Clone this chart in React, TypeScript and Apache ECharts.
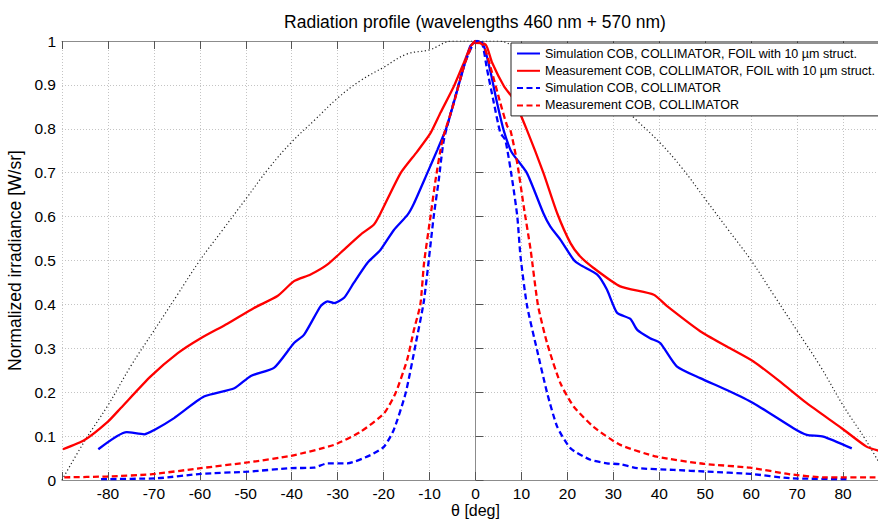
import React, { useEffect, useRef } from "react";
import * as echarts from "echarts";

const titleText = "Radiation profile (wavelengths 460 nm + 570 nm)";
const xAxisName = "θ [deg]";
const yAxisName = "Normalized irradiance [W/sr]";

const seriesNames = [
  "Simulation COB, COLLIMATOR, FOIL with 10 µm struct.",
  "Measurement COB, COLLIMATOR, FOIL with 10 µm struct.",
  "Simulation COB, COLLIMATOR",
  "Measurement COB, COLLIMATOR",
];

// Simulation, foil (blue solid)
const simFoilTheta = [-82.1, -75.9, -72.1, -69.9, -65.6, -59.1, -52.5, -48.9, -43.8, -39.5, -37.3, -33.7, -32.2, -30.8, -28.6, -26.5, -23.5, -20.7, -17.8, -14.8, -13.4, -10.5, -8.3, -6.2, -3.3, -1.1, 0.4, 1.8, 3.3, 4.7, 6.2, 7.6, 8.3, 11.2, 14.8, 16.3, 18.5, 21.4, 22.8, 26.5, 28.6, 30.8, 33.7, 35.2, 38.0, 40.2, 43.8, 48.9, 54.7, 60.5, 69.2, 72.1, 75.7, 81.9];
const simFoilVal = [0.070, 0.109, 0.104, 0.114, 0.141, 0.190, 0.209, 0.237, 0.256, 0.312, 0.331, 0.396, 0.407, 0.403, 0.415, 0.449, 0.495, 0.524, 0.569, 0.604, 0.630, 0.699, 0.752, 0.806, 0.913, 0.989, 1.0, 0.989, 0.928, 0.859, 0.794, 0.752, 0.740, 0.699, 0.607, 0.577, 0.547, 0.501, 0.490, 0.468, 0.434, 0.381, 0.367, 0.342, 0.323, 0.312, 0.259, 0.232, 0.205, 0.175, 0.118, 0.103, 0.099, 0.072];

// Measurement, foil (red solid)
const measFoilTheta = [-89.8, -85.1, -80.0, -77.2, -70.7, -64.8, -59.8, -54.0, -48.2, -43.1, -39.5, -35.9, -32.2, -28.6, -25.0, -22.1, -20.7, -16.3, -12.7, -9.8, -7.6, -4.7, -2.5, -0.4, 2.2, 3.6, 6.2, 8.3, 11.2, 14.8, 17.8, 20.7, 22.8, 25.7, 31.5, 38.8, 41.7, 48.9, 54.7, 60.5, 66.3, 72.1, 79.7, 85.1, 88.0];
const measFoilVal = [0.070, 0.091, 0.133, 0.164, 0.236, 0.289, 0.323, 0.356, 0.392, 0.419, 0.453, 0.468, 0.491, 0.525, 0.559, 0.582, 0.607, 0.699, 0.748, 0.790, 0.837, 0.897, 0.951, 0.996, 0.992, 0.951, 0.897, 0.867, 0.797, 0.699, 0.607, 0.539, 0.509, 0.483, 0.441, 0.422, 0.396, 0.339, 0.304, 0.270, 0.224, 0.175, 0.118, 0.076, 0.066];

// Simulation, collimator only (blue dashed)
const simCollTheta = [-81.5, -69.2, -59.8, -49.6, -40.2, -35.2, -32.2, -27.9, -22.8, -19.9, -17.8, -15.2, -13.0, -11.2, -9.1, -8.0, -6.9, -4.5, -2.3, -0.7, 0, 1.4, 2.5, 4.0, 5.4, 6.5, 8.0, 9.1, 9.8, 11.2, 13.4, 15.6, 17.8, 20.7, 25.0, 28.6, 31.5, 35.2, 43.1, 50.4, 59.8, 68.5, 81.5];
const simCollVal = [0.002, 0.004, 0.014, 0.019, 0.027, 0.028, 0.038, 0.038, 0.057, 0.076, 0.114, 0.198, 0.311, 0.410, 0.600, 0.683, 0.774, 0.870, 0.950, 0.990, 1.0, 0.996, 0.936, 0.859, 0.791, 0.774, 0.683, 0.600, 0.509, 0.398, 0.296, 0.198, 0.121, 0.072, 0.046, 0.038, 0.036, 0.027, 0.023, 0.019, 0.014, 0.004, 0.002];

// Measurement, collimator only (red dashed)
const measCollTheta = [-89.5, -80.1, -70.7, -59.8, -49.6, -40.2, -30.8, -25.0, -19.9, -17.4, -14.9, -13.4, -12.0, -11.2, -9.8, -8.7, -7.2, -4.7, -2.5, -0.7, 0, 1.8, 3.6, 5.4, 6.9, 7.6, 9.1, 10.5, 12.0, 13.6, 15.6, 18.5, 21.4, 25.7, 31.5, 39.5, 49.6, 59.8, 68.5, 75.7, 88.0];
const measCollVal = [0.006, 0.008, 0.013, 0.027, 0.040, 0.055, 0.080, 0.110, 0.152, 0.198, 0.273, 0.342, 0.400, 0.494, 0.600, 0.683, 0.774, 0.859, 0.943, 0.992, 1.0, 0.989, 0.928, 0.859, 0.806, 0.797, 0.721, 0.623, 0.524, 0.398, 0.311, 0.220, 0.167, 0.121, 0.080, 0.053, 0.037, 0.028, 0.013, 0.006, 0.006];

// Reference (dotted) curve
const refTheta = [-90, -85, -80, -75, -70, -65, -60, -55, -50, -45, -40, -35, -30, -25, -20, -15, -10, -5, 0, 5, 10, 15, 20, 25, 30, 35, 40, 45, 50, 55, 60, 65, 70, 75, 80, 85, 90];
const refVal = [0, 0.09, 0.17, 0.26, 0.34, 0.42, 0.5, 0.57, 0.64, 0.71, 0.77, 0.82, 0.87, 0.91, 0.94, 0.97, 0.98, 1.0, 1.0, 1.0, 0.98, 0.97, 0.94, 0.91, 0.87, 0.82, 0.77, 0.71, 0.64, 0.57, 0.5, 0.42, 0.34, 0.26, 0.17, 0.09, 0];

const pairs = (xs: number[], ys: number[]) => xs.map((x, i) => [x, ys[i]]);

const FONT = "Liberation Sans, Arial, sans-serif";

export default function App() {
  const ref = useRef<HTMLDivElement>(null);
  useEffect(() => {
    if (!ref.current) return;
    const chart = echarts.init(ref.current, null, { renderer: "svg" });
    const axisGray = "#8c8c8c";
    const tickGray = "#555";
    const gridLine = { show: true, lineStyle: { color: "#c4c4c4", type: [1, 2] as any, width: 1 } };
    const lineSeries = (name: string, data: number[][], color: string, dashed: boolean, z: number) => ({
      name,
      type: "line",
      data,
      showSymbol: false,
      symbol: "none",
      smooth: 0.2,
      z,
      lineStyle: { color, width: 2.3, type: dashed ? ([6, 3.5] as any) : "solid" },
      itemStyle: { color },
    });
    chart.setOption({
      animation: false,
      textStyle: { fontFamily: FONT },
      title: {
        text: titleText,
        left: 470,
        top: 8,
        textAlign: "center",
        textStyle: { fontSize: 17.5, fontWeight: "normal", color: "#000", fontFamily: FONT },
      },
      grid: { left: 62, right: -11, top: 41, bottom: 40, containLabel: false, outerBoundsMode: "none" },
      legend: {
        data: seriesNames,
        orient: "vertical",
        left: 511,
        top: 43,
        padding: [4, 20, 4, 5],
        itemWidth: 23,
        itemHeight: 13,
        itemGap: 4.3,
        backgroundColor: "#fff",
        borderColor: "#222",
        borderWidth: 1,
        borderRadius: 0,
        itemStyle: { opacity: 0, borderWidth: 0 },
        textStyle: { fontSize: 12.5, color: "#000", lineHeight: 13, fontFamily: FONT },
        z: 20,
      },
      xAxis: [
        {
          type: "value",
          min: -90,
          max: 90,
          interval: 10,
          position: "bottom",
          name: xAxisName,
          nameLocation: "middle",
          nameGap: 22,
          nameMoveOverlap: false,
          nameTextStyle: { fontSize: 16, color: "#000", fontFamily: FONT, verticalAlign: "top", lineHeight: 16 },
          axisLine: { show: true, onZero: false, lineStyle: { color: axisGray, width: 1 } },
          axisTick: { show: true, inside: true, length: 8, lineStyle: { color: tickGray } },
          axisLabel: {
            fontSize: 15.5,
            lineHeight: 14,
            color: "#000",
            margin: 6,
            fontFamily: FONT,
            formatter: (v: number) => (Math.abs(v) >= 90 ? "" : String(v)),
          },
          splitLine: gridLine,
        },
        {
          type: "value",
          min: -90,
          max: 90,
          interval: 10,
          position: "top",
          axisLine: { show: true, onZero: false, lineStyle: { color: axisGray, width: 1 } },
          axisTick: { show: true, inside: true, length: 8, lineStyle: { color: tickGray } },
          axisLabel: { show: false },
          splitLine: { show: false },
        },
      ],
      yAxis: {
        type: "value",
        min: 0,
        max: 1,
        interval: 0.1,
        name: yAxisName,
        nameLocation: "middle",
        nameGap: 38,
        nameMoveOverlap: false,
        nameTextStyle: { fontSize: 17.5, color: "#000", fontFamily: FONT },
        axisLine: { show: true, lineStyle: { color: axisGray, width: 1 } },
        axisTick: { show: true, inside: true, length: 8, lineStyle: { color: tickGray } },
        axisLabel: {
          fontSize: 15.5,
          color: "#000",
          margin: 6,
          fontFamily: FONT,
          formatter: (v: number) => String(Math.round(v * 10) / 10),
        },
        splitLine: gridLine,
      },
      series: [
        {
          name: "reference",
          type: "line",
          data: pairs(refTheta, refVal),
          showSymbol: false,
          symbol: "none",
          smooth: 0.4,
          z: 1,
          lineStyle: { color: "#222", width: 1.2, type: [1.2, 2.5] as any },
        },
        lineSeries(seriesNames[0], pairs(simFoilTheta, simFoilVal), "#0000ff", false, 3),
        lineSeries(seriesNames[1], pairs(measFoilTheta, measFoilVal), "#ff0000", false, 4),
        lineSeries(seriesNames[2], pairs(simCollTheta, simCollVal), "#0000ff", true, 5),
        lineSeries(seriesNames[3], pairs(measCollTheta, measCollVal), "#ff0000", true, 6),
      ],
    });
    return () => chart.dispose();
  }, []);
  return (
    <div
      ref={ref}
      style={{ position: "fixed", left: 0, top: 0, width: 878, height: 520, background: "#fff" }}
    />
  );
}
